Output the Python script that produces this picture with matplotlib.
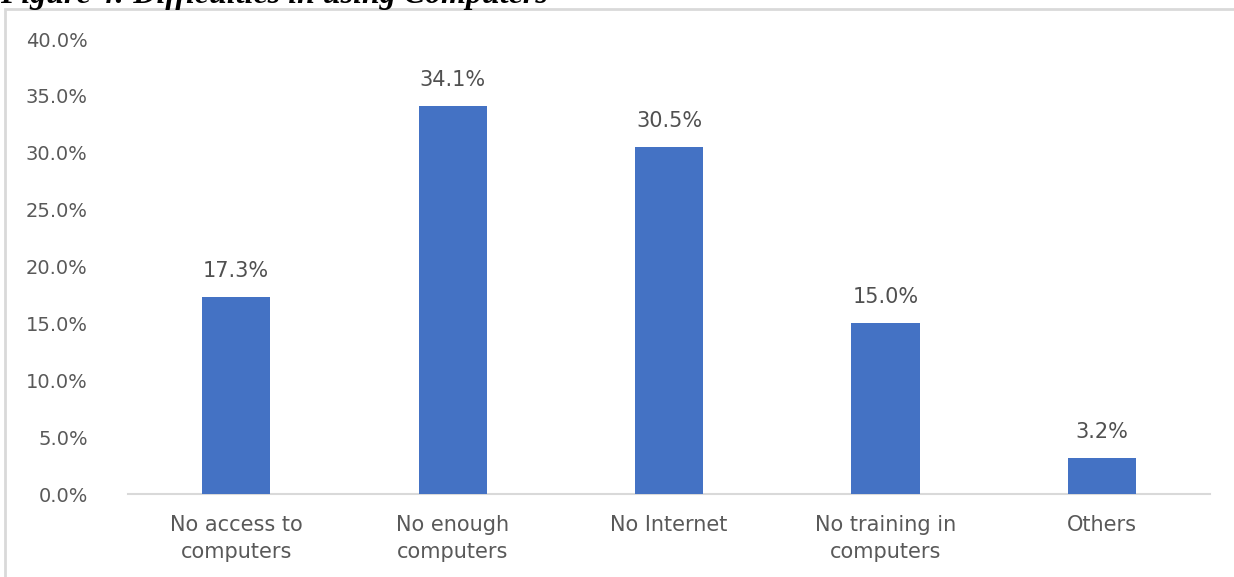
import matplotlib.pyplot as plt
from matplotlib.patches import Rectangle

categories = ['No access to\ncomputers', 'No enough\ncomputers', 'No Internet',
              'No training in\ncomputers', 'Others']
values = [17.3, 34.1, 30.5, 15.0, 3.2]
y_ticks = [0, 5, 10, 15, 20, 25, 30, 35, 40]

plt.rcParams['font.family'] = ['DejaVu Sans']

fig = plt.figure(figsize=(12.34, 5.77), dpi=100)
ax = fig.add_axes([0.1037, 0.1438, 0.8769, 0.7886])

x = range(len(categories))
ax.bar(x, values, width=0.315, color='#4472C4', zorder=3)

for xi, v in zip(x, values):
    ax.text(xi, v + 1.4, f'{v:.1f}%', ha='center', va='bottom',
            fontsize=15, color='#505050')

ax.set_xlim(-0.5, len(categories) - 0.5)
ax.set_ylim(0, 40)
ax.set_yticks(y_ticks)
ax.set_yticklabels([f'{t:.1f}%' for t in y_ticks])
ax.set_xticks(list(x))
ax.set_xticklabels(categories, linespacing=1.45)
ax.tick_params(axis='both', length=0, labelcolor='#595959')
ax.tick_params(axis='y', pad=29, labelsize=14)
ax.tick_params(axis='x', pad=15, labelsize=15)

for side in ['top', 'right', 'left']:
    ax.spines[side].set_visible(False)
ax.spines['bottom'].set_color('#d9d9d9')
ax.spines['bottom'].set_linewidth(1.5)

# chart frame
fig.patches.append(Rectangle((5 / 1234, -0.05), 1.1, 1 - 9 / 577 + 0.05,
                             transform=fig.transFigure, fill=False,
                             edgecolor='#d9d9d9', linewidth=2))

# figure caption, sitting above the frame
fig.text(0.0, 1 - 3 / 577, 'Figure 4: Difficulties in using Computers',
         ha='left', va='baseline', fontsize=23, fontweight='bold',
         fontstyle='italic', family='Liberation Serif', color='black')

fig.savefig('out.png', dpi=100)
